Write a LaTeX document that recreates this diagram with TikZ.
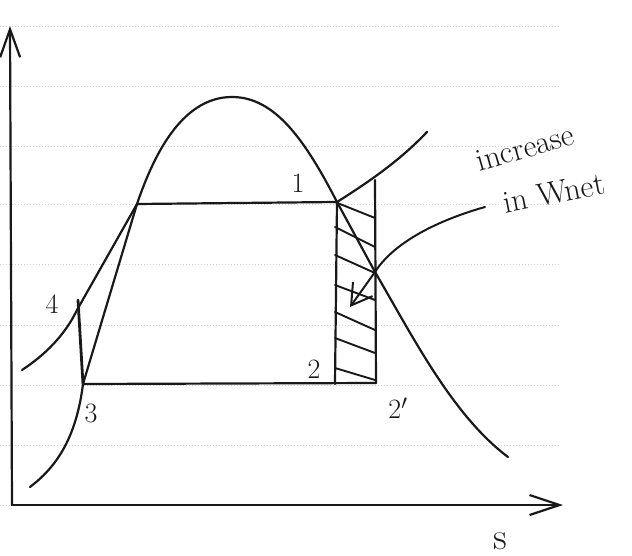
\documentclass[tikz,border=0pt]{standalone}
\usetikzlibrary{arrows.meta}
\begin{document}
\begin{tikzpicture}[x=1pt,y=-1pt,
  ink/.style={line width=2.2pt, line cap=round, line join=round, black!90},
  ruled/.style={gray!35, dotted, line width=1pt},
  hatchln/.style={line width=1.9pt, line cap=round, black!90},
  lbl/.style={font=\fontsize{28}{28}\selectfont, inner sep=0pt, black!90},
  word/.style={font=\fontsize{32}{32}\selectfont, inner sep=0pt, black!90},
  barb/.style={-{Straight Barb[length=#1, width=20pt, line width=2.2pt]}}
]
\useasboundingbox (0,0) rectangle (632,556);
% ruled paper lines
\foreach \yy in {27,87,147,205,265,325,385,445,505}
  \draw[ruled] (0,\yy) -- (560,\yy);
% named points
\coordinate (O) at (12,505);
\coordinate (Ytop) at (10,26);
\coordinate (Xend) at (563,505);
\coordinate (P1) at (337,202);
\coordinate (P2) at (335,384);
\coordinate (P3) at (83,384);
\coordinate (P4) at (78,300);
\coordinate (Pf) at (137,204);
\coordinate (P2p) at (376,383);
\coordinate (Rtop) at (375,180);
\coordinate (X) at (375,272);
\coordinate (Sh) at (427,132);
\coordinate (Ast) at (485,207);
\coordinate (Atip) at (350,307);
\coordinate (Top) at (232,97);
\coordinate (Lq) at (77,310);
% axes
\draw[ink, barb=28pt] (O) -- (Ytop);
\draw[ink, barb=30pt] (O) -- (Xend);
% saturation dome and compressed-liquid curve
\draw[ink] (22,370) .. controls (45,355) and (65,335) .. (Lq) -- (Pf)
  .. controls (152,160) and (180,97) .. (Top)
  .. controls (275,97) and (305,140) .. (P1) -- (X)
  .. controls (412,335) and (452,415) .. (508,457);
\draw[ink] (30,487) .. controls (55,468) and (76,440) .. (P3);
% cycle lines
\draw[ink] (P3) -- (Pf);
\draw[ink, line width=2.8pt] (P3) -- (P4);
\draw[ink] (Pf) -- (P1);
\draw[ink] (P3) -- (P2p);
\draw[ink] (P1) -- (P2);
\draw[ink] (Rtop) -- (P2p);
\draw[ink] (P1) .. controls (380,175) and (405,155) .. (Sh);
% hatching
\foreach \a/\b in {202/218, 227/247, 255/273, 285/300, 312/330, 338/353, 368/380}
  \draw[hatchln] (335,\a) -- (375,\b);
% arrow
\draw[ink, line width=2pt, -{Straight Barb[length=20pt, width=24pt, line width=2pt]}] (Ast) .. controls (432,222) and (392,245) .. (X) -- (Atip);
% labels
\node[lbl] (l1) at (298,183) {1};
\node[lbl] (l2) at (314,369) {2};
\node[lbl] (l3) at (91,413) {3};
\node[lbl] (l4) at (52,304) {4};
\node[lbl] (l2p) at (398,408) {2$'$};
\node[font=\fontsize{38}{38}\selectfont, inner sep=0pt, black!90] (ls) at (500,541) {s};
\node[word, rotate=16] (t1) at (525,148) {increase};
\node[word, rotate=11] (t2) at (554,193) {in Wnet};
\end{tikzpicture}
\end{document}
